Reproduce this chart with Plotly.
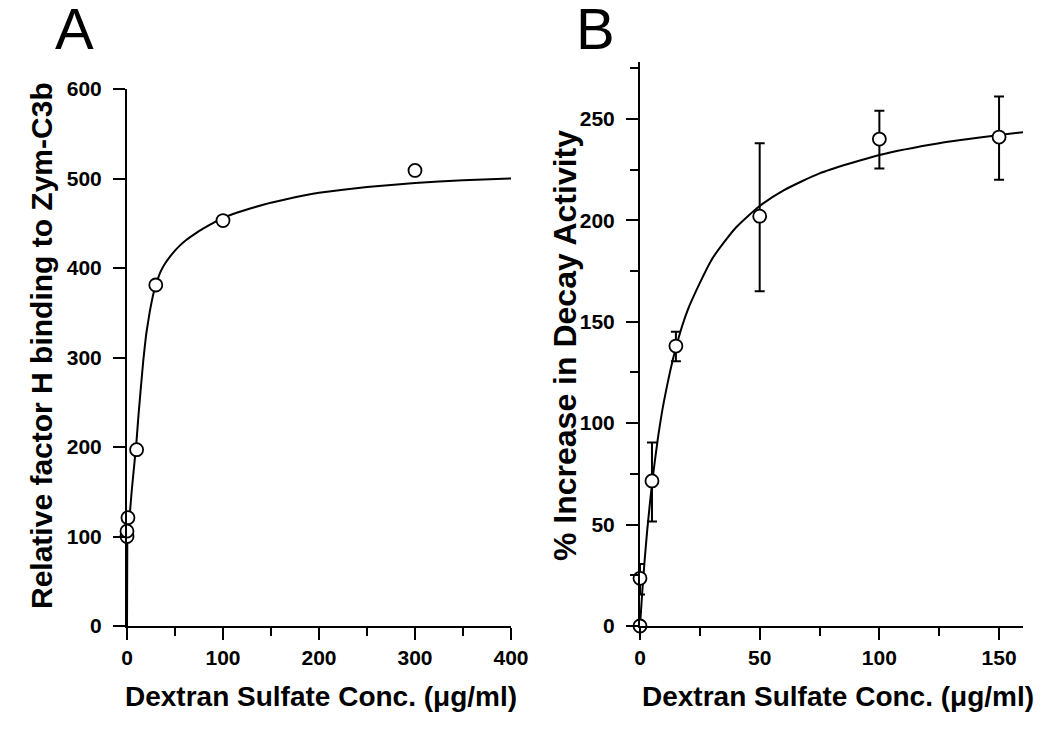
import plotly.graph_objects as go

# ---- Panel A data ----
a_x = [0, 0, 1, 10, 30, 100, 300]
a_y = [100, 106, 121, 197, 381, 453, 509]
a_fit_x = [0, 0.3, 1, 2, 3, 5, 8, 10, 12, 14, 17, 20, 24, 27, 30, 35, 40, 45, 50, 55, 62,
           70, 80, 90, 100, 115, 130, 150, 175, 200, 250, 300, 350, 400]
a_fit_y = [0, 93, 102, 114, 126, 152, 185, 208, 236, 261, 297, 326, 353, 369, 381, 396, 405.5,
           413, 419.5, 425, 431.5, 437.5, 444.5, 450.5, 456, 462, 467, 473, 479, 484, 490.5,
           495, 498, 500]

# ---- Panel B data ----
b_x = [0, 0, 5, 15, 50, 100, 150]
b_y = [0, 23.5, 71.5, 138, 202, 240, 241]
b_err_plus = [0, 7, 19, 7, 36, 14, 20]
b_err_minus = [0, 8, 20, 7.5, 37, 14.5, 21]
b_fit_x = [0, 1, 2, 3, 5, 7.5, 10, 15, 20, 30, 40, 50, 60, 75, 100, 125, 150, 160]
b_fit_y = [0, 17.8, 33.3, 47, 70, 92.7, 110.7, 137.3, 156, 180.7, 196.3, 207, 214.7, 223.1, 232.2, 238, 242, 243.4]

x_title = "Dextran Sulfate Conc. (\u03bcg/ml)"
a_y_title = "Relative factor H binding to Zym-C3b"
b_y_title = "% Increase in Decay Activity"

FONT = "Liberation Sans"
tickfont = dict(family=FONT, size=21, color="black", weight="bold")


def tfont(size):
    return dict(family=FONT, size=size, color="black", weight="bold")


W, H = 1050, 731
OFF = 8  # page body offset


def px(x):
    return (x - OFF) / W


def py(y):
    return (H - (y - OFF)) / H


fig = go.Figure()

fig.add_trace(go.Scatter(x=a_fit_x, y=a_fit_y, mode="lines",
                         line=dict(color="black", width=2, shape="spline", smoothing=0.3),
                         xaxis="x", yaxis="y", cliponaxis=False, hoverinfo="skip"))
fig.add_trace(go.Scatter(x=a_x, y=a_y, mode="markers",
                         marker=dict(symbol="circle", size=13, color="white",
                                     line=dict(color="black", width=1.8)),
                         xaxis="x", yaxis="y", cliponaxis=False))

fig.add_trace(go.Scatter(x=b_fit_x, y=b_fit_y, mode="lines",
                         line=dict(color="black", width=2, shape="spline", smoothing=0.6),
                         xaxis="x2", yaxis="y2", cliponaxis=False, hoverinfo="skip"))
fig.add_trace(go.Scatter(x=b_x, y=b_y, mode="markers",
                         marker=dict(symbol="circle", size=13, color="white",
                                     line=dict(color="black", width=1.8)),
                         error_y=dict(type="data", symmetric=False, array=b_err_plus,
                                      arrayminus=b_err_minus, color="black",
                                      thickness=2, width=5),
                         xaxis="x2", yaxis="y2", cliponaxis=False))

axis_common = dict(showline=True, linecolor="black", linewidth=2, ticks="outside",
                   ticklen=12, tickwidth=2, tickcolor="black", showgrid=False,
                   zeroline=False, tickfont=tickfont, mirror=False, fixedrange=True,
                   automargin=False)

ann_common = dict(xref="paper", yref="paper", showarrow=False,
                  xanchor="center", yanchor="middle")

fig.update_layout(
    width=W, height=H, autosize=False,
    margin=dict(l=0, r=0, t=0, b=0, pad=0, autoexpand=False),
    paper_bgcolor="white", plot_bgcolor="white",
    showlegend=False,
    xaxis=dict(axis_common, domain=[px(127), px(511)], range=[0, 400], dtick=100,
               anchor="y",
               minor=dict(ticks="outside", ticklen=8, tickwidth=2, tickcolor="black", dtick=50)),
    yaxis=dict(axis_common, domain=[py(626), py(89)], range=[0, 600], dtick=100,
               anchor="x", ticklabelstandoff=7),
    xaxis2=dict(axis_common, domain=[px(640), px(1023)], range=[0, 160], dtick=50,
                anchor="y2",
                minor=dict(ticks="outside", ticklen=8, tickwidth=2, tickcolor="black", dtick=25)),
    yaxis2=dict(axis_common, domain=[py(626), py(62)], range=[0, 278], dtick=50,
                anchor="x2", ticklabelstandoff=7,
                minor=dict(ticks="outside", ticklen=8, tickwidth=2, tickcolor="black", dtick=25)),
    annotations=[
        dict(ann_common, text="A", x=px(74), y=py(29),
             font=dict(family=FONT, size=58, color="black")),
        dict(ann_common, text="B", x=px(595), y=py(29),
             font=dict(family=FONT, size=58, color="black")),
        dict(ann_common, text=x_title, x=px(321), y=py(696), font=tfont(28)),
        dict(ann_common, text=x_title, x=px(838), y=py(696), font=tfont(28)),
        dict(ann_common, text=a_y_title, x=px(41), y=py(346), textangle=-90, font=tfont(30)),
        dict(ann_common, text=b_y_title, x=px(565), y=py(346), textangle=-90, font=tfont(32)),
    ],
)

fig.write_html("out.html")
